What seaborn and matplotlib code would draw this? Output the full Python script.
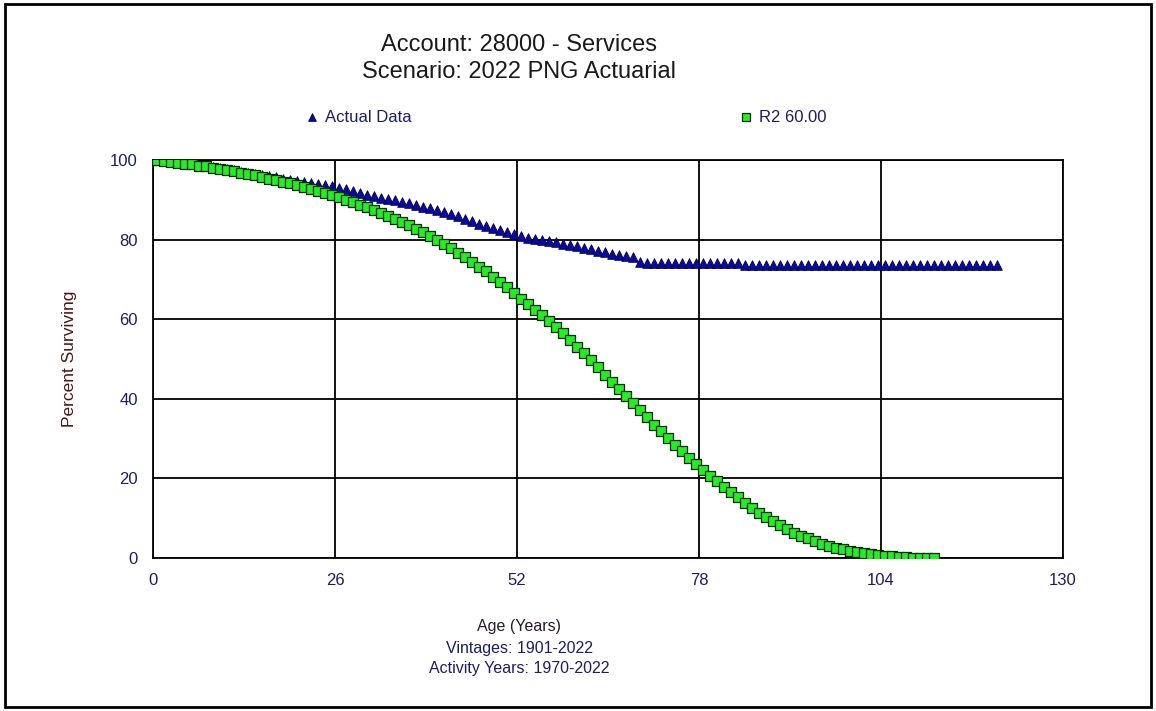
import numpy as np
import pandas as pd
import matplotlib
matplotlib.use("Agg")
import matplotlib.pyplot as plt
import seaborn as sns
from matplotlib.patches import Rectangle

# survivor curve data
actual_age = np.concatenate([[0], np.arange(0.5, 121, 1)])
actual_pct = [100.0,
    99.9, 99.7, 99.5, 99.3, 99.1, 98.9, 98.7, 98.5, 98.2, 98.0,
    97.7, 97.4, 97.1, 96.8, 96.5, 96.2, 95.9, 95.6, 95.3, 95.0,
    94.7, 94.4, 94.2, 93.9, 93.7, 93.4, 93.0, 92.6, 92.2, 91.8,
    91.3, 90.9, 90.5, 90.2, 89.9, 89.5, 89.2, 88.8, 88.3, 87.9,
    87.4, 86.9, 86.4, 85.8, 85.2, 84.6, 84.0, 83.4, 82.9, 82.3,
    81.8, 81.3, 80.9, 80.5, 80.2, 79.9, 79.6, 79.3, 79.0, 78.7,
    78.3, 78.0, 77.6, 77.2, 76.8, 76.4, 76.1, 75.8, 75.5, 74.3,
    74.1,
    74.0, 74.0, 74.0, 74.0, 74.0, 74.0, 74.0, 74.0, 74.0, 74.0,
    74.0, 74.0, 74.0,
    73.6, 73.6, 73.6, 73.6, 73.6, 73.6, 73.6, 73.6, 73.6, 73.6,
    73.6, 73.6, 73.6, 73.6, 73.6, 73.6, 73.6, 73.6, 73.6, 73.6,
    73.6, 73.6, 73.6, 73.6, 73.6, 73.6, 73.6, 73.6, 73.6, 73.6,
    73.6, 73.6, 73.6, 73.6, 73.6, 73.6, 73.6]

r2_age = np.concatenate([[0], np.arange(0.5, 112, 1)])
r2_pct = [100.0,
    99.9, 99.7, 99.5, 99.3, 99.1, 98.9, 98.6, 98.4, 98.1, 97.8,
    97.5, 97.2, 96.8, 96.5, 96.1, 95.7, 95.3, 94.9, 94.5, 94.1,
    93.6, 93.2, 92.7, 92.2, 91.7, 91.2, 90.6, 90.0, 89.4, 88.8,
    88.1, 87.4, 86.7, 86.0, 85.2, 84.4, 83.6, 82.7, 81.8, 80.9,
    79.9, 78.9, 77.8, 76.7, 75.6, 74.4, 73.2, 72.0, 70.7, 69.4,
    68.0, 66.6, 65.1, 63.8, 62.4, 61.0, 59.6, 58.1, 56.5, 54.8,
    53.1, 51.4, 49.7, 47.9, 46.1, 44.3, 42.5, 40.7, 38.9, 37.1,
    35.3, 33.5, 31.8, 30.1, 28.4, 26.8, 25.2, 23.7, 22.2, 20.7,
    19.3, 17.9, 16.5, 15.2, 13.9, 12.6, 11.4, 10.3, 9.2, 8.2,
    7.3, 6.4, 5.6, 4.9, 4.2, 3.6, 3.1, 2.6, 2.2, 1.8,
    1.5, 1.2, 0.9, 0.7, 0.5, 0.4, 0.3, 0.2, 0.1, 0.05,
    0.02, 0.0]

x_ticks = [0, 26, 52, 78, 104, 130]
y_ticks = [0, 20, 40, 60, 80, 100]

actual = pd.DataFrame({"age": actual_age, "pct": actual_pct})
r2 = pd.DataFrame({"age": r2_age, "pct": r2_pct})

sns.set_style("white")
plt.rcParams["font.family"] = ["Liberation Sans", "DejaVu Sans"]

navy = "#1c1c6e"
fig = plt.figure(figsize=(11.56, 7.11), dpi=100)
ax = fig.add_axes([0.1324, 0.2152, 0.7872, 0.5598])

sns.scatterplot(data=actual, x="age", y="pct", marker="^", s=48,
                color="#0a0aa0", edgecolor="#000050", linewidth=0.6,
                label="Actual Data", ax=ax, zorder=3)
sns.scatterplot(data=r2, x="age", y="pct", marker="s", s=48,
                color="#22ee22", edgecolor="#0a2a0a", linewidth=0.9,
                label="R2 60.00", ax=ax, zorder=4)

ax.set_xlim(0, 130)
ax.set_ylim(0, 100)
ax.set_xticks(x_ticks)
ax.set_yticks(y_ticks)
ax.grid(True, color="black", linewidth=1.3)
ax.set_axisbelow(True)
for sp in ax.spines.values():
    sp.set_color("black")
    sp.set_linewidth(1.3)
ax.tick_params(axis="both", direction="out", length=5, width=1.2,
               color="black", labelcolor=navy, labelsize=12, pad=6)
ax.set_xlabel("")
ax.set_ylabel("Percent Surviving", color="#4e1414", fontsize=12.5, labelpad=24)

handles, labels = ax.get_legend_handles_labels()
if ax.get_legend() is not None:
    ax.get_legend().remove()
fig.legend([handles[0]], [labels[0]], loc="center left",
           bbox_to_anchor=(295 / 1156, 1 - 117 / 711), frameon=False,
           handletextpad=0.3, handlelength=1.0, borderpad=0,
           markerscale=0.8, labelcolor=navy, fontsize=12)
fig.legend([handles[1]], [labels[1]], loc="center left",
           bbox_to_anchor=(729 / 1156, 1 - 117 / 711), frameon=False,
           handletextpad=0.3, handlelength=1.0, borderpad=0,
           markerscale=0.8, labelcolor=navy, fontsize=12)

fig.text(519 / 1156, 1 - 45 / 711, "Account: 28000 - Services",
         ha="center", va="center", fontsize=17, color="#1a1a1a")
fig.text(519 / 1156, 1 - 72 / 711, "Scenario: 2022 PNG Actuarial",
         ha="center", va="center", fontsize=17, color="#1a1a1a")

fig.text(519 / 1156, 1 - 627 / 711, "Age (Years)",
         ha="center", va="center", fontsize=11.5, color="#2a1a2a")
fig.text(519 / 1156, 1 - 648 / 711, "Vintages: 1901-2022",
         ha="center", va="center", fontsize=11.5, color=navy)
fig.text(519 / 1156, 1 - 668 / 711, "Activity Years: 1970-2022",
         ha="center", va="center", fontsize=11.5, color=navy)

fig.add_artist(Rectangle((0.004, 0.006), 0.992, 0.988, transform=fig.transFigure,
                         fill=False, edgecolor="black", linewidth=2))

fig.savefig("out.png", dpi=100)
